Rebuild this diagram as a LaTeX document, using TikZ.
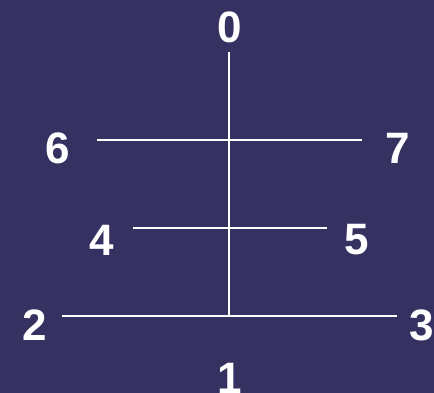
\documentclass[tikz,border=0pt]{standalone}
\usepackage{fontspec}
\setmainfont{Liberation Sans}
\usetikzlibrary{backgrounds}
\definecolor{bgblue}{HTML}{353262}
\tikzset{>=stealth}
\tikzset{
  num/.style={text=white,font=\bfseries\fontsize{44}{44}\selectfont,inner sep=0pt},
  rung/.style={draw=white,line width=1.5pt}
}
\begin{document}
\begin{tikzpicture}[x=1pt,y=-1pt]
  \fill[bgblue] (0,0) rectangle (434,393);
  \useasboundingbox (0,0) rectangle (434,393);
  % ends of the lines
  \coordinate (top) at (229,52);
  \coordinate (bot) at (229,316);
  \coordinate (l67) at (97,140);
  \coordinate (r67) at (362,140);
  \coordinate (l45) at (133,228);
  \coordinate (r45) at (327,228);
  \coordinate (l23) at (62,316);
  \coordinate (r23) at (397,316);
  \draw[rung] (top)--(bot);
  \draw[rung] (l67)--(r67);
  \draw[rung] (l45)--(r45);
  \draw[rung] (l23)--(r23);
  % labels
  \node[num] (n0) at (230,27) {0};
  \node[num] (n6) at (58,148) {6};
  \node[num] (n7) at (398,148) {7};
  \node[num] (n4) at (102,240) {4};
  \node[num] (n5) at (357,240) {5};
  \node[num] (n2) at (35,325) {2};
  \node[num] (n3) at (422,325) {3};
  \node[num] (n1) at (230,378) {1};
\end{tikzpicture}
\end{document}
